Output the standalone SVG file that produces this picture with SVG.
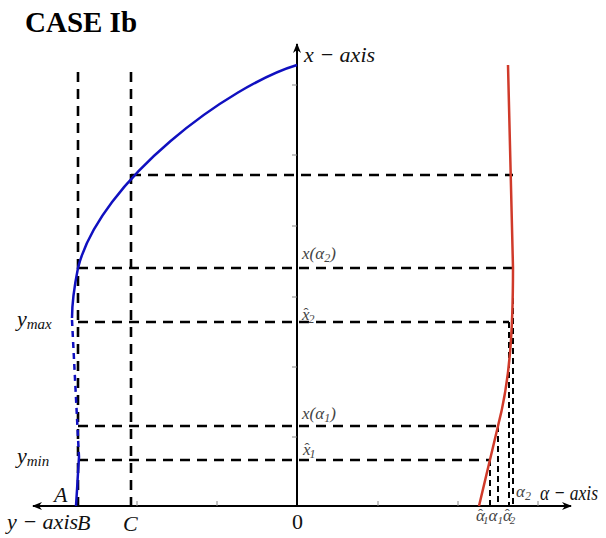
<svg xmlns="http://www.w3.org/2000/svg" width="606" height="538" viewBox="0 0 606 538">
<style>
.axis{stroke:#000;stroke-width:2;fill:none}
.tick{stroke:#888;stroke-width:1}
.dash{stroke:#000;stroke-width:2.6;stroke-dasharray:10,7;fill:none}
.dashthin{stroke:#000;stroke-width:2;stroke-dasharray:6,4;fill:none}
.m{font-family:"Liberation Serif","Times New Roman",serif;font-style:italic;font-size:22px;fill:#111}
.s{font-family:"Liberation Serif","Times New Roman",serif;font-style:italic;font-size:17px;fill:#444}
.hat{font-style:normal;font-size:15px}
.sub{font-size:15px}
.title{font-family:"Liberation Serif","Times New Roman",serif;font-weight:bold;font-size:29px;fill:#000}
</style>
<defs>
<marker id="arr" viewBox="0 0 10 10" refX="9" refY="5" markerWidth="10" markerHeight="10" markerUnits="userSpaceOnUse" orient="auto">
<path d="M0,1 L10,5 L0,9 L3,5 Z" fill="#000"/>
</marker>
</defs>
<rect width="606" height="538" fill="#fff"/>
<text class="title" x="25" y="32">CASE Ib</text>
<g id="axes">
<line class="axis" x1="297" y1="506" x2="297" y2="44" marker-end="url(#arr)"/>
<line class="axis" x1="297" y1="506" x2="33" y2="506" marker-end="url(#arr)"/>
<line class="axis" x1="297" y1="506" x2="571" y2="506" marker-end="url(#arr)"/>
<g class="tick">
<line x1="292" y1="85" x2="297" y2="85"/><line x1="292" y1="155" x2="297" y2="155"/><line x1="292" y1="226" x2="297" y2="226"/><line x1="292" y1="297" x2="297" y2="297"/><line x1="292" y1="367" x2="297" y2="367"/><line x1="292" y1="437" x2="297" y2="437"/>
<line x1="137" y1="501" x2="137" y2="506"/><line x1="217" y1="501" x2="217" y2="506"/><line x1="378" y1="501" x2="378" y2="506"/><line x1="458" y1="501" x2="458" y2="506"/><line x1="538" y1="501" x2="538" y2="506"/>
</g>
</g>
<g id="connectors">
<line class="dash" x1="78" y1="72" x2="78" y2="506"/>
<line class="dash" x1="131" y1="72" x2="131" y2="506"/>
<line class="dash" x1="131" y1="175" x2="513" y2="175"/>
<line class="dash" x1="78" y1="268" x2="513" y2="268"/>
<line class="dash" x1="78" y1="322" x2="509" y2="322"/>
<line class="dash" x1="78" y1="426" x2="498" y2="426"/>
<line class="dash" x1="78" y1="460" x2="490" y2="460"/>
<line class="dashthin" x1="490" y1="460" x2="490" y2="506"/>
<line class="dashthin" x1="498" y1="426" x2="498" y2="506"/>
<line class="dashthin" x1="509" y1="322" x2="509" y2="506"/>
<line class="dashthin" x1="513" y1="268" x2="513" y2="506"/>
</g>
<g id="blue-curve">
<path d="M297,65 C230,85 100,180 78,268 C74,288 72,303 72,318" stroke="#1010c0" stroke-width="2.5" fill="none"/>
<path d="M72,320 L79,457" stroke="#1010c0" stroke-width="2.5" stroke-dasharray="6,5" fill="none"/>
<path d="M79,457 L76,506" stroke="#1010c0" stroke-width="2.5" fill="none"/>
</g>
<g id="red-curve">
<path d="M508,65 L513,268 C513,330 510,380 498,426 L479,506" stroke="#d03a2a" stroke-width="2.5" fill="none"/>
</g>
<g id="labels">
<text class="m" x="304" y="62">x − axis</text>
<text class="m" x="17" y="326">y<tspan class="sub" dy="3">max</tspan></text>
<text class="m" x="17" y="463">y<tspan class="sub" dy="3">min</tspan></text>
<text class="m" x="54" y="502">A</text>
<text class="m" x="7" y="529">y − axis</text>
<text class="m" x="77" y="530">B</text>
<text class="m" x="123" y="531">C</text>
<text x="292" y="529" font-family="Liberation Serif, serif" font-size="22" fill="#111">0</text>
<text class="s" x="302" y="259">x(α<tspan font-size="12" dy="3">2</tspan><tspan dy="-3">)</tspan></text>
<text class="s" x="302" y="320">x<tspan class="hat" dx="-6" dy="-2">ˆ</tspan><tspan font-size="12" dx="0" dy="5">2</tspan></text>
<text class="s" x="302" y="419">x(α<tspan font-size="12" dy="3">1</tspan><tspan dy="-3">)</tspan></text>
<text class="s" x="303" y="455">x<tspan class="hat" dx="-6" dy="-2">ˆ</tspan><tspan font-size="12" dx="0" dy="5">1</tspan></text>
<text class="s" x="516" y="497" fill="#222">α<tspan font-size="12" dy="3">2</tspan></text>
<text class="m" x="540" y="500" textLength="58" lengthAdjust="spacingAndGlyphs">α − axis</text>
<text class="s" x="476" y="521" fill="#222" font-size="16">α<tspan class="hat" dx="-7" dy="-2">ˆ</tspan><tspan font-size="11" dx="0" dy="5">1</tspan><tspan dy="-3">α</tspan><tspan font-size="11" dy="3">1</tspan><tspan dy="-3">α</tspan><tspan class="hat" dx="-7" dy="-2">ˆ</tspan><tspan font-size="11" dx="0" dy="5">2</tspan></text>
</g>
</svg>
